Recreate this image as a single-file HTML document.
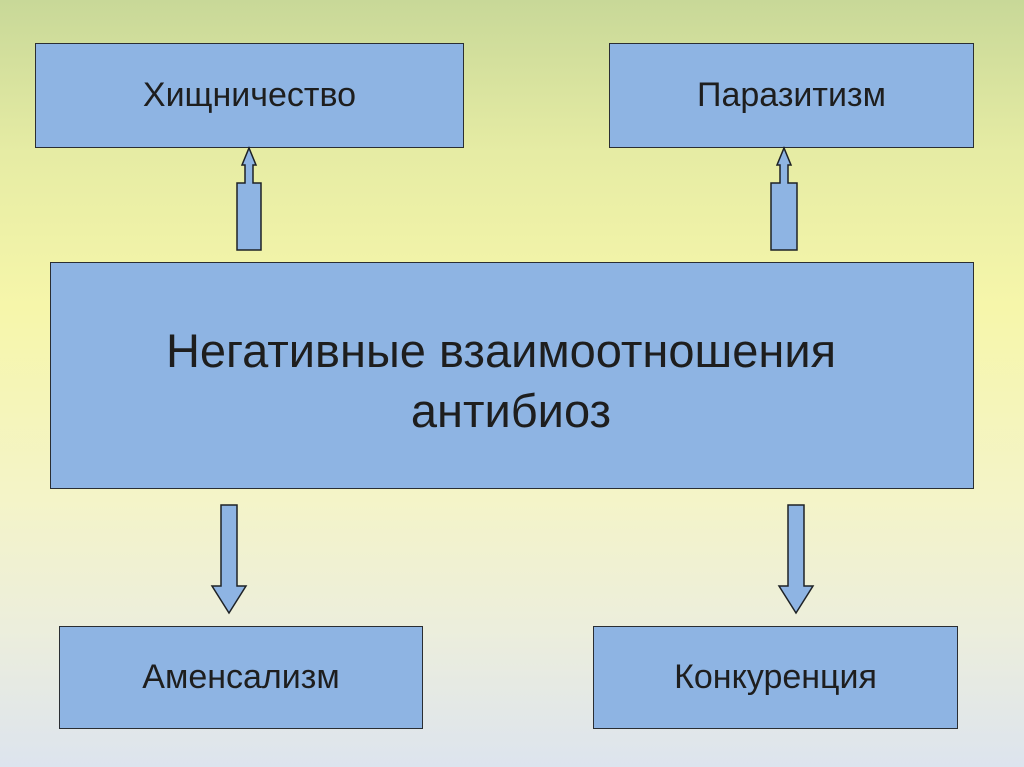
<!DOCTYPE html>
<html><head><meta charset="utf-8"><style>
body{margin:0;width:1024px;height:767px;overflow:hidden;background:linear-gradient(180deg,#c8d898 0%,#e6eca4 20%,#f6f6aa 40%,#f4f4c8 65%,#eceedc 82%,#dde4ee 100%);font-family:"Liberation Sans",sans-serif;position:relative}
.b{position:absolute;background:#8eb4e3;border:1.5px solid #2a2e33;box-sizing:border-box;display:flex;align-items:center;justify-content:center;color:#1e1e1e;font-size:34px}
</style></head><body>
<div class="b" style="left:35px;top:43px;width:429px;height:105px">Хищничество</div>
<div class="b" style="left:609px;top:43px;width:365px;height:105px">Паразитизм</div>
<div class="b" style="left:50px;top:262px;width:924px;height:227px;font-size:47px;display:block">
<div style="position:absolute;left:0;top:60px;width:900px;text-align:center">Негативные взаимоотношения</div>
<div style="position:absolute;left:300px;top:120px;width:320px;text-align:center">антибиоз</div></div>
<div class="b" style="left:59px;top:626px;width:364px;height:103px">Аменсализм</div>
<div class="b" style="left:593px;top:626px;width:365px;height:103px">Конкуренция</div>
<svg width="1024" height="767" style="position:absolute;left:0;top:0">
<g fill="#8eb4e3" stroke="#1e2226" stroke-width="1.5">
<polygon points="237,250 261,250 261,183 253,183 253,165 256,165 249,148 242,165 245,165 245,183 237,183"/>
<polygon points="771,250 797,250 797,183 788,183 788,165 791,165 784,148 777,165 780,165 780,183 771,183"/>
<polygon points="221,505 237,505 237,586 246,586 229,613 212,586 221,586"/>
<polygon points="788,505 804,505 804,586 813,586 796,613 779,586 788,586"/>
</g></svg>
</body></html>
